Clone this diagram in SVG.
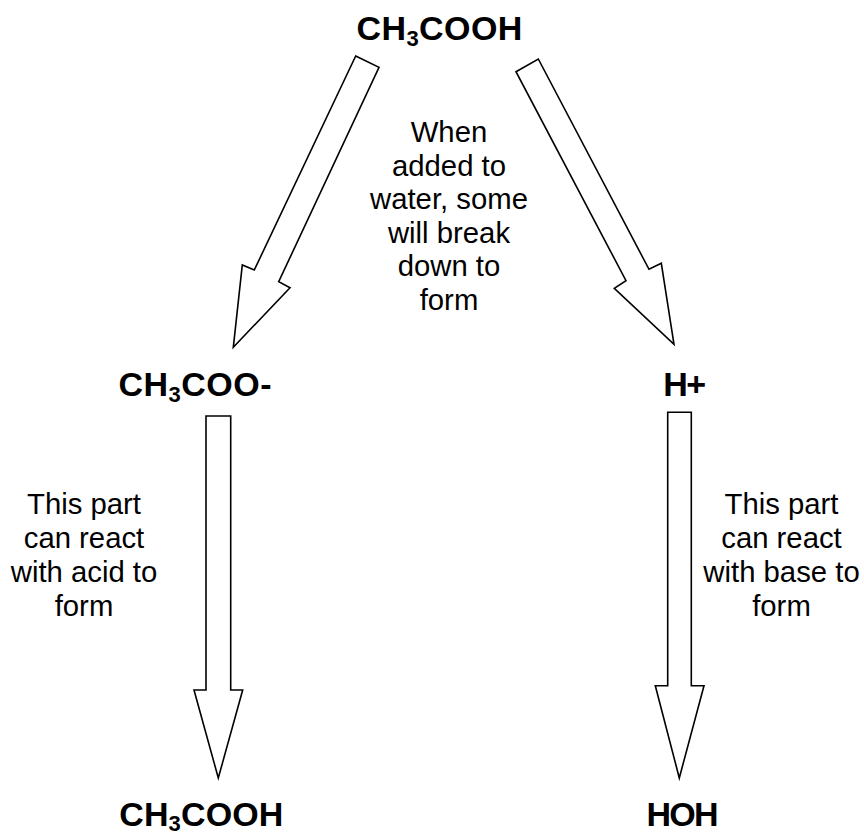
<svg xmlns="http://www.w3.org/2000/svg" width="864" height="837" viewBox="0 0 864 837">
<style>
.bg{fill:#ffffff}
.arrow{fill:#ffffff;stroke:#000000;stroke-width:1.6;stroke-linejoin:miter}
.chem{font-family:"Liberation Sans",Arial,sans-serif;font-weight:bold;font-size:34px;fill:#000000;text-anchor:middle}
.sub{font-size:22px}
.note{font-family:"Liberation Sans",Arial,sans-serif;font-size:29.3px;fill:#000000;text-anchor:middle}
</style>
<rect class="bg" x="0" y="0" width="864" height="837"/>
<g id="connectors">
<polygon id="arrow-left-diag" class="arrow" points="355.7,56 379,67.3 278.7,281.7 290,287.7 233.3,347.3 242.3,265 254.3,270"/>
<polygon id="arrow-right-diag" class="arrow" points="516,71.7 538.3,59 649,269.3 661.3,263.3 674,344.3 614.3,288.3 626,280.7"/>
<polygon id="arrow-left-down" class="arrow" points="206,416 230.7,416 230.7,690 242.7,690 218.3,778 194,690 206,690"/>
<polygon id="arrow-right-down" class="arrow" points="667.7,412.3 691.3,412.3 691.3,685.7 704,685.7 679.3,778 655.3,685.7 667.7,685.7"/>
</g>
<g id="node-acetic-acid-top">
<text class="chem" x="439.4" y="40" textLength="166" lengthAdjust="spacing">CH<tspan class="sub" dy="6">3</tspan><tspan dy="-6">COOH</tspan></text>
</g>
<g id="node-acetate">
<text class="chem" x="195" y="396" textLength="153" lengthAdjust="spacing">CH<tspan class="sub" dy="6">3</tspan><tspan dy="-6">COO-</tspan></text>
</g>
<g id="node-hplus">
<text class="chem" x="684.7" y="396" textLength="43" lengthAdjust="spacing">H+</text>
</g>
<g id="node-acetic-acid-bottom">
<text class="chem" x="201.3" y="826" textLength="164" lengthAdjust="spacing">CH<tspan class="sub" dy="5">3</tspan><tspan dy="-5">COOH</tspan></text>
</g>
<g id="node-hoh">
<text class="chem" x="682.5" y="826" textLength="72" lengthAdjust="spacing">HOH</text>
</g>
<g id="label-middle">
<text class="note" x="449" y="142">When</text>
<text class="note" x="449" y="175.5">added to</text>
<text class="note" x="449" y="209">water, some</text>
<text class="note" x="449" y="242.5">will break</text>
<text class="note" x="449" y="276">down to</text>
<text class="note" x="449" y="309.5">form</text>
</g>
<g id="label-left">
<text class="note" x="84" y="514">This part</text>
<text class="note" x="84" y="548">can react</text>
<text class="note" x="84" y="582">with acid to</text>
<text class="note" x="84" y="616">form</text>
</g>
<g id="label-right">
<text class="note" x="781.5" y="514">This part</text>
<text class="note" x="781.5" y="548">can react</text>
<text class="note" x="781.5" y="582">with base to</text>
<text class="note" x="781.5" y="616">form</text>
</g>
</svg>
